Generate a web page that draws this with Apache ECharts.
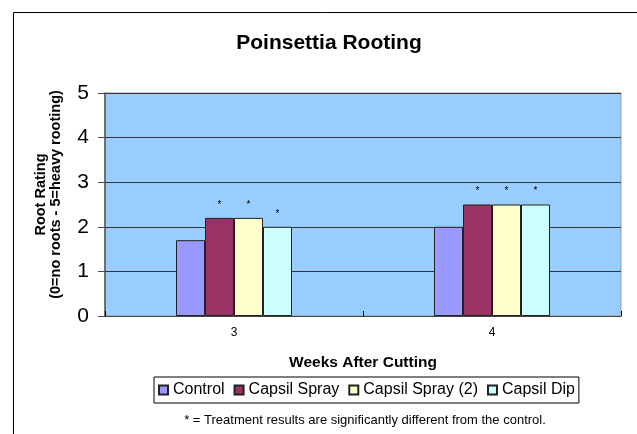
<!DOCTYPE html>
<html>
<head>
<meta charset="utf-8">
<script src="https://cdn.jsdelivr.net/npm/echarts@6/dist/echarts.min.js"></script>
<style>
  html, body { margin: 0; padding: 0; background: #fff; }
  #chart { width: 637px; height: 434px; }
</style>
</head>
<body>
<div id="chart"></div>
<script>
const weeks = ['3', '4'];
const control = [1.7, 2.0];
const capsilSpray = [2.2, 2.5];
const capsilSpray2 = [2.2, 2.5];
const capsilDip = [2.0, 2.5];
const yTicks = [0, 1, 2, 3, 4, 5];

const chart = echarts.init(document.getElementById('chart'));
const font = 'Liberation Sans, Arial, sans-serif';

const starLabel = {
  show: true,
  position: 'top',
  distance: 8,
  formatter: '*',
  fontSize: 10,
  color: '#000',
  fontFamily: font
};

const barStyle = (color) => ({ color: color, borderColor: '#222', borderWidth: 1 });

const option = {
  animation: false,
  textStyle: { fontFamily: font },
  title: {
    text: 'Poinsettia Rooting',
    left: 324,
    top: 28,
    textAlign: 'center',
    textStyle: { fontSize: 21, fontWeight: 'bold', color: '#000', fontFamily: font }
  },
  graphic: [
    {
      type: 'rect',
      shape: { x: 13.5, y: 12.5, width: 700, height: 500 },
      style: { fill: 'none', stroke: '#000', lineWidth: 1 },
      silent: true
    },
    {
      type: 'text',
      x: 365,
      y: 420,
      style: {
        text: '* = Treatment results are significantly different from the control.',
        fontSize: 13,
        fontFamily: font,
        fill: '#000',
        align: 'center',
        verticalAlign: 'middle'
      }
    }
  ],
  legend: {
    data: ['Control', 'Capsil Spray', 'Capsil Spray (2)', 'Capsil Dip'],
    left: 154,
    top: 377,
    icon: 'rect',
    itemWidth: 9,
    itemHeight: 9,
    itemGap: 9,
    padding: [5, 4],
    borderColor: '#000',
    borderWidth: 1,
    textStyle: { fontSize: 16, color: '#000', fontFamily: font }
  },
  grid: {
    left: 105,
    right: 16,
    top: 93,
    bottom: 118,
    show: true,
    backgroundColor: '#99CCFF',
    borderColor: '#999',
    borderWidth: 1
  },
  xAxis: {
    type: 'category',
    data: weeks,
    name: 'Weeks After Cutting',
    nameLocation: 'middle',
    nameGap: 39,
    nameTextStyle: { fontSize: 15.5, fontWeight: 'bold', color: '#000', fontFamily: font },
    axisLine: { lineStyle: { color: '#444', width: 1 } },
    axisTick: { show: true, inside: true, length: 5, lineStyle: { color: '#000' } },
    axisLabel: { fontSize: 12, color: '#000', margin: 11 },
    splitLine: { show: false }
  },
  yAxis: {
    type: 'value',
    min: 0,
    max: 5,
    interval: 1,
    name: 'Root Rating\n(0=no roots - 5=heavy rooting)',
    nameLocation: 'middle',
    nameGap: 42,
    nameTextStyle: {
      fontSize: 14.5,
      fontWeight: 'bold',
      color: '#000',
      lineHeight: 15,
      fontFamily: font,
      padding: [0, 0, 0, 20]
    },
    axisLine: { show: true, lineStyle: { color: '#555', width: 1.5 } },
    axisTick: { show: true, length: 7, lineStyle: { color: '#444' } },
    axisLabel: {
      fontSize: 21,
      color: '#000',
      margin: 16,
      formatter: (v) => (yTicks.indexOf(v) >= 0 ? String(v) : '')
    },
    splitLine: { lineStyle: { color: '#333', width: 1 } }
  },
  series: [
    { name: 'Control', type: 'bar', data: control, barWidth: 29, barGap: '0%', itemStyle: barStyle('#9999FF') },
    { name: 'Capsil Spray', type: 'bar', data: capsilSpray, barWidth: 29, barGap: '0%', itemStyle: barStyle('#993366'), label: starLabel },
    { name: 'Capsil Spray (2)', type: 'bar', data: capsilSpray2, barWidth: 29, barGap: '0%', itemStyle: barStyle('#FFFFCC'), label: starLabel },
    { name: 'Capsil Dip', type: 'bar', data: capsilDip, barWidth: 29, barGap: '0%', itemStyle: barStyle('#CCFFFF'), label: starLabel }
  ]
};

chart.setOption(option);
</script>
</body>
</html>
